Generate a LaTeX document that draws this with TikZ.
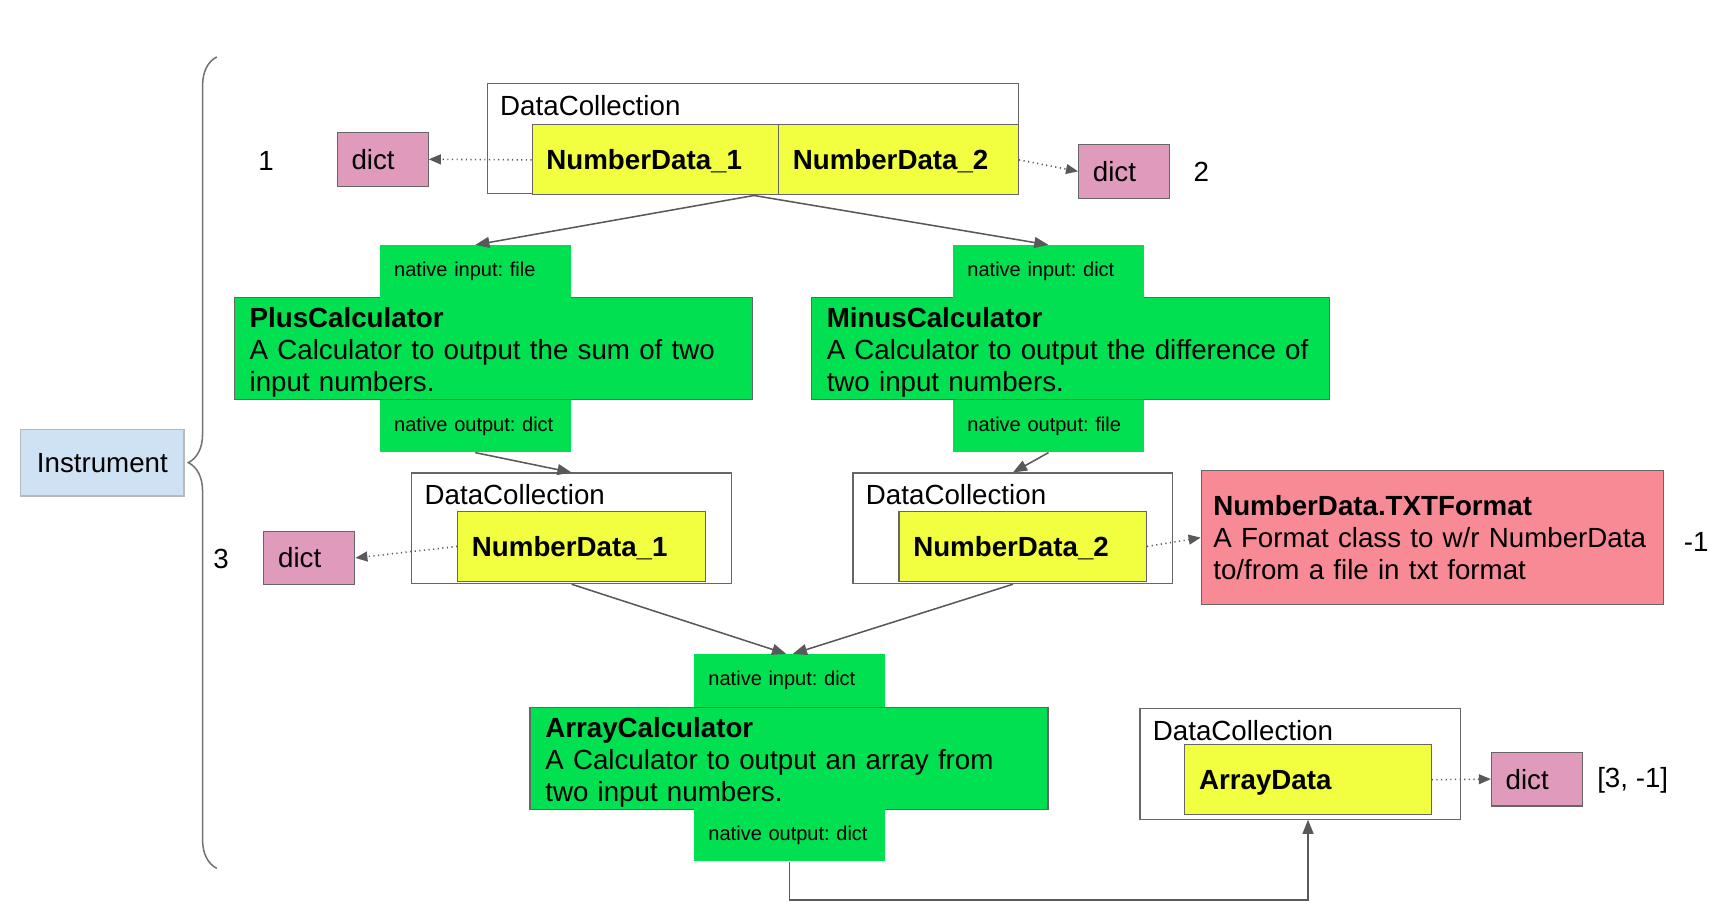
\documentclass[tikz,border=0pt]{standalone}
\usepackage{fontspec}
\setmainfont{Liberation Sans}
\usepackage{xcolor}
\usetikzlibrary{positioning, calc, arrows.meta, decorations.pathreplacing}

\definecolor{calcgreen}{RGB}{0,224,80}
\definecolor{datayellow}{RGB}{242,255,64}
\definecolor{dictpink}{RGB}{224,154,188}
\definecolor{formatred}{RGB}{248,138,150}
\definecolor{instrblue}{RGB}{207,226,243}
\definecolor{boxgray}{RGB}{102,102,102}
\definecolor{arrowgray}{RGB}{89,89,89}

\newcommand{\mainsize}{\fontsize{14.4}{16.6}\selectfont}
\newcommand{\portsize}{\fontsize{10.4}{12.5}\selectfont}
\newcommand{\topstrut}{\rule{0pt}{0.5cm}}

\tikzset{
  collection/.style={draw=boxgray, line width=0.6pt, fill=white, minimum height=2.02cm,
    label={[font=\mainsize, anchor=north west, inner xsep=0.24cm, inner ysep=0.22cm]north west:DataCollection}},
  data/.style={draw=boxgray, line width=0.6pt, fill=datayellow, font=\mainsize\bfseries,
    text width=#1, inner xsep=0.26cm, inner ysep=0pt, minimum height=1.28cm, align=left,
    text height=0.42cm, text depth=0.056cm},
  dictbox/.style={draw=boxgray, line width=0.6pt, fill=dictpink, font=\mainsize,
    text width=1.14cm, inner xsep=0.26cm, minimum height=0.98cm, align=left,
    text height=0.42cm, text depth=0.056cm},
  calc/.style={draw=boxgray, line width=0.6pt, fill=calcgreen, font=\mainsize,
    text width=8.9cm, inner xsep=0.28cm, inner ysep=0pt, minimum height=1.86cm, align=left},
  port/.style={fill=calcgreen, font=\portsize, text width=2.96cm, inner xsep=0.26cm,
    minimum height=0.96cm, align=left},
  num/.style={font=\mainsize},
  flow/.style={draw=arrowgray, line width=0.8pt, -{Triangle[length=0.26cm, width=0.2cm]}},
  link/.style={draw=arrowgray, line width=0.8pt, dash pattern=on 0.6pt off 1.8pt,
    -{Triangle[length=0.22cm, width=0.18cm]}}
}

\begin{document}
\frenchspacing
\begin{tikzpicture}
  \useasboundingbox (0,0) rectangle (31.36,16.54);

  % Instrument and its brace
  \node[draw=gray!55, line width=0.6pt, fill=instrblue, font=\mainsize,
    minimum width=2.98cm, minimum height=1.22cm] (instr) at (1.87,8.09) {Instrument};
  \draw[gray!90!black, line width=0.8pt, decorate, decoration={brace, amplitude=0.52cm}]
    (3.96,0.68) -- (3.96,15.5);

  % --- TOP COLLECTION ---
  \node[collection, minimum width=9.70cm] (dctop) at (13.75,14.01) {};
  \node[data=3.98cm] (ndA) at (11.97,13.62) {NumberData\_1};
  \node[data=3.86cm] (ndB) at (16.41,13.62) {NumberData\_2};
  \node[dictbox] (d1) at (6.99,13.63) {dict};
  \node[dictbox] (d2) at (20.53,13.41) {dict};
  \node[num] (n1) at (4.86,13.6) {1};
  \node[num] (n2) at (21.94,13.4) {2};
  \draw[link] (ndA.west) -- (d1.east);
  \draw[link] (ndB.east) -- (d2.west);

  % --- CALCULATORS ---
  \node[calc] (plus) at (9.01,10.17) {\topstrut\textbf{PlusCalculator}\\A Calculator to output the sum of two\\input numbers.};
  \node[port] (pin) at (8.68,11.58) {native input: file};
  \node[port] (pout) at (8.68,8.76) {native output: dict};

  \node[calc] (minus) at (19.55,10.17) {\topstrut\textbf{MinusCalculator}\\A Calculator to output the difference of\\two input numbers.};
  \node[port] (min) at (19.15,11.58) {native input: dict};
  \node[port] (mout) at (19.15,8.76) {native output: file};

  \coordinate (split) at ([xshift=-0.46cm]ndA.south east);
  \draw[flow] (split) -- (pin.north);
  \draw[flow] (split) -- (min.north);

  % --- MIDDLE COLLECTIONS ---
  \node[collection, minimum width=5.84cm] (dcl) at (10.44,6.89) {};
  \node[data=4.0cm] (ndC) at (10.62,6.56) {NumberData\_1};
  \node[collection, minimum width=5.84cm] (dcr) at (18.50,6.89) {};
  \node[data=4.0cm] (ndD) at (18.68,6.56) {NumberData\_2};
  \node[dictbox] (d3) at (5.65,6.35) {dict};
  \node[num] (n3) at (4.04,6.34) {3};
  \draw[flow] (pout.south) -- (dcl.north);
  \draw[flow] (mout.south) -- (dcr.north);
  \draw[link] (ndC.west) -- (d3.east);

  % Format class
  \node[draw=boxgray, line width=0.6pt, fill=formatred, font=\mainsize, text width=8.0cm,
    inner xsep=0.22cm, minimum height=2.44cm, align=left] (txt) at (26.16,6.72)
    {\textbf{NumberData.TXTFormat}\\A Format class to w/r NumberData\\to/from a file in txt format};
  \node[num] (n4) at (30.98,6.64) {-1};
  \draw[link] (ndD.east) -- (txt.west);

  % --- ARRAY CALCULATOR ---
  \node[calc] (arr) at (14.41,2.69) {\topstrut\textbf{ArrayCalculator}\\A Calculator to output an array from\\two input numbers.};
  \node[port] (ain) at (14.42,4.11) {native input: dict};
  \node[port] (aout) at (14.42,1.29) {native output: dict};
  \draw[flow] (dcl.south) -- ([xshift=-0.06cm]ain.north);
  \draw[flow] (dcr.south) -- ([xshift=0.06cm]ain.north);

  % Array result
  \node[collection, minimum width=5.86cm] (dcb) at (23.75,2.59) {};
  \node[data=3.98cm] (ad) at (23.89,2.30) {ArrayData};
  \node[dictbox] (d4) at (28.07,2.31) {dict};
  \node[num] (n5) at (29.82,2.28) {[3, -1]};
  \draw[link] (ad.east) -- (d4.west);
  \draw[flow] (aout.south) -- ++(0,-0.7) -| (ad.south |- dcb.south);
\end{tikzpicture}
\end{document}
